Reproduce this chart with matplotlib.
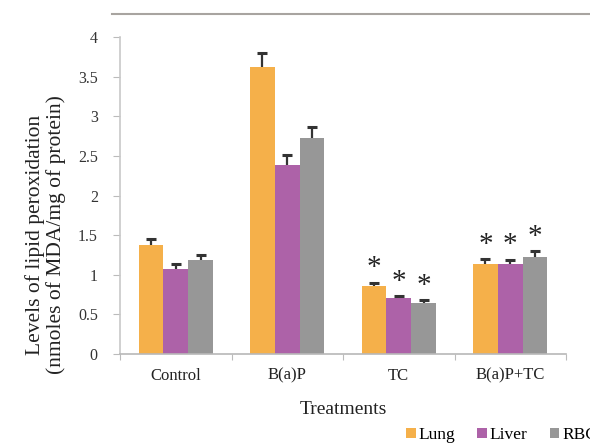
import matplotlib
matplotlib.use("Agg")
import matplotlib.pyplot as plt
from matplotlib.lines import Line2D
import numpy as np

categories = ["Control", "B(a)P", "TC", "B(a)P+TC"]
series = ["Lung", "Liver", "RBC"]
lung = [1.38, 3.62, 0.86, 1.13]
liver = [1.07, 2.39, 0.71, 1.13]
rbc = [1.18, 2.72, 0.64, 1.23]
lung_err = [0.07, 0.18, 0.04, 0.07]
liver_err = [0.06, 0.12, 0.02, 0.06]
rbc_err = [0.07, 0.15, 0.04, 0.07]
significant = [False, False, True, True]
yticks = [0, 0.5, 1, 1.5, 2, 2.5, 3, 3.5, 4]
ytick_labels = ["0", "0.5", "1", "1.5", "2", "2.5", "3", "3.5", "4"]

colors = ["#F5B04A", "#AD62A8", "#979797"]
plt.rcParams['font.family'] = ['Liberation Serif', 'DejaVu Serif']

fig = plt.figure(figsize=(5.9, 4.44), dpi=100)
ax = fig.add_axes([120/590, 1-354/444, (566-120)/590, (354-37)/444])

x = np.arange(len(categories)) + 0.5
w = 0.222
vals = [lung, liver, rbc]
errs = [lung_err, liver_err, rbc_err]
for k, (v, e) in enumerate(zip(vals, errs)):
    pos = x + (k - 1) * w
    v = np.array(v); e = np.array(e)
    ax.bar(pos, v, width=w, color=colors[k], label=series[k], zorder=2)
    ax.vlines(pos, v, v + e, color='#333333', lw=1.6, zorder=3)
    ax.plot(pos, v + e, ls='none', marker='_', ms=7, mew=2.2, color='#333333', zorder=3)
    for i in range(len(categories)):
        if significant[i]:
            ax.annotate("*", (pos[i], v[i] + e[i]), xytext=(0, 1), textcoords='offset points',
                        ha='center', va='bottom', fontsize=21, color='#222222')

ax.set_xlim(0, 4)
ax.set_ylim(0, 4)
ax.set_yticks(yticks)
ax.set_yticklabels(ytick_labels, fontsize=11.5, color='#333333')
ax.set_xticks([0, 1, 2, 3, 4])
ax.set_xticklabels([])
ax.set_xticks(x, minor=True)
ax.set_xticklabels(categories, minor=True, fontsize=12, color='#222222')
ax.tick_params(axis='x', which='minor', length=0, pad=10)
ax.tick_params(axis='x', which='major', length=4, color='#bbbbbb', direction='out')
ax.tick_params(axis='y', length=5, color='#bbbbbb', direction='out', pad=11)
for s in ['top', 'right']:
    ax.spines[s].set_visible(False)
ax.spines['left'].set_color('#c8c8c8')
ax.spines['bottom'].set_color('#b8b8b8')
ax.spines['left'].set_linewidth(1.2)
ax.spines['bottom'].set_linewidth(1.2)

ax.set_xlabel("Treatments", fontsize=14, color='#222222', labelpad=12)
ax.set_ylabel("Levels of lipid peroxidation\n(nmoles of MDA/mg of protein)", fontsize=15.5,
              color='#222222', linespacing=1.1)
ax.yaxis.set_label_coords((66-120)/446, 1-(235-37)/317)

fig.add_artist(Line2D([112/590, 1.0], [1-14/444, 1-14/444], color='#a8a4a0', lw=1.5))

fig.legend(loc='center left', bbox_to_anchor=(406/590, 1-435/444), ncol=3, frameon=False,
           fontsize=12.5, handlelength=0.55, handleheight=0.55, handletextpad=0.15,
           columnspacing=1.3, borderpad=0, borderaxespad=0)

fig.savefig("out.png", dpi=100)
